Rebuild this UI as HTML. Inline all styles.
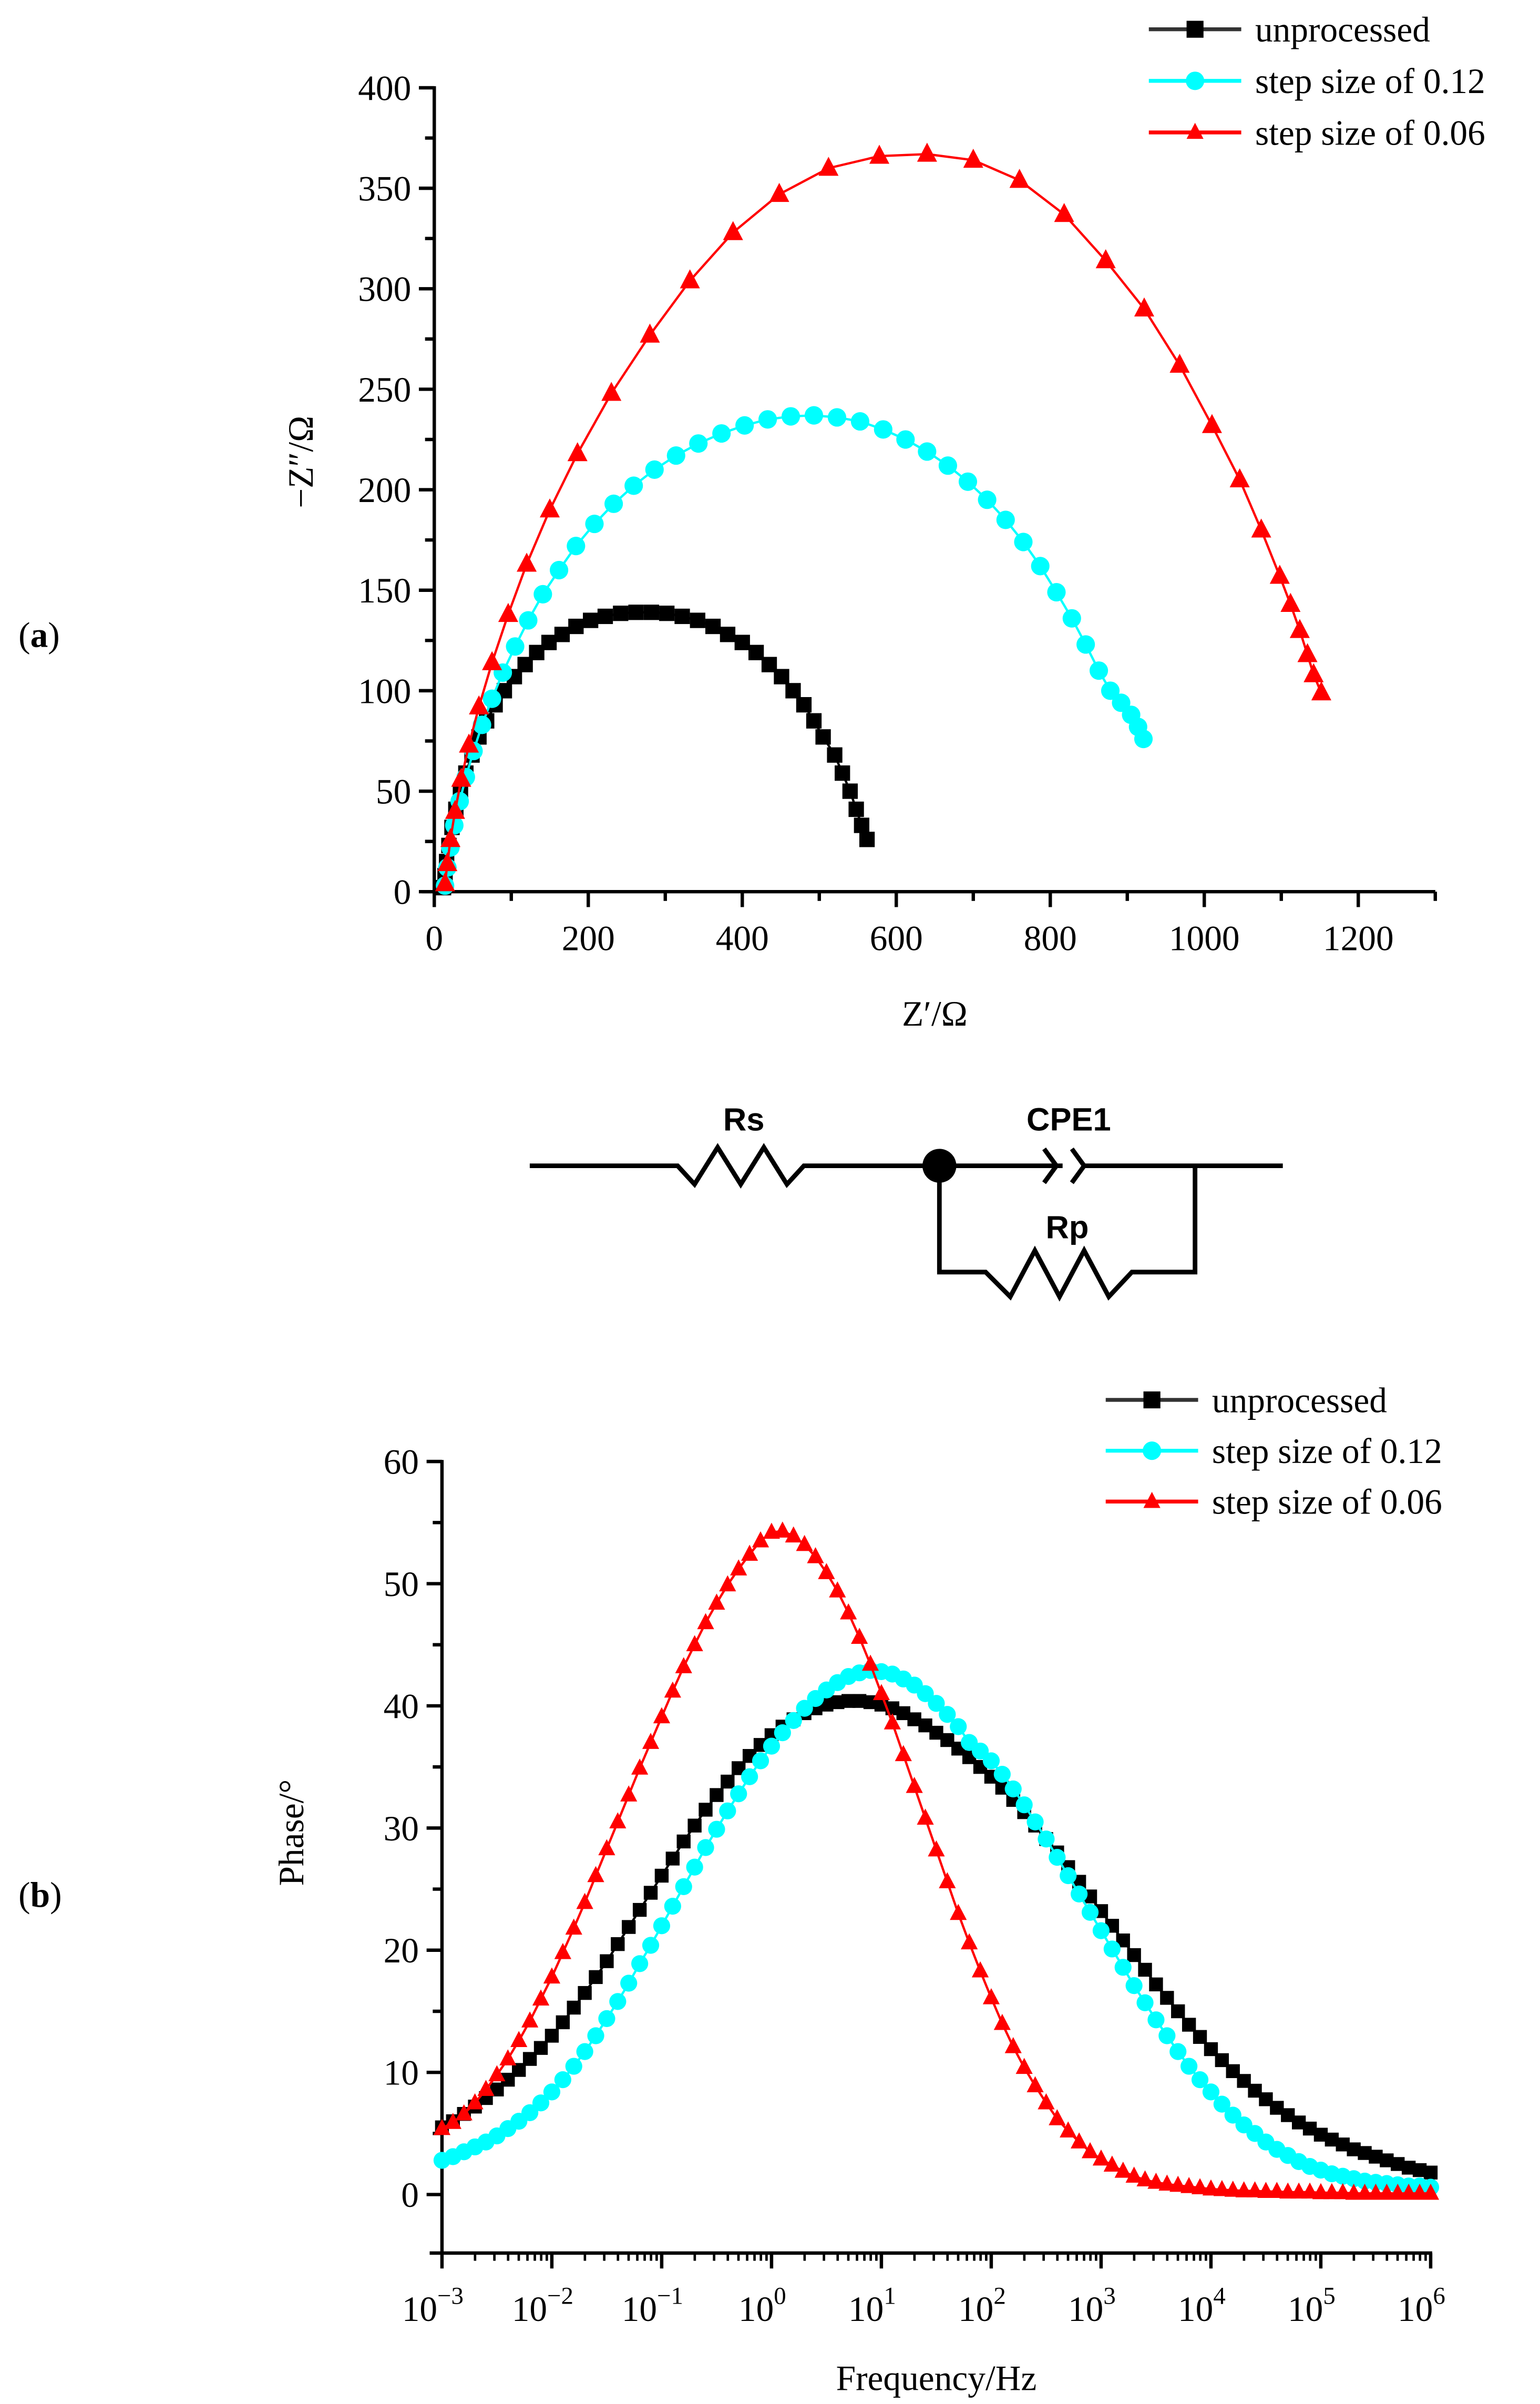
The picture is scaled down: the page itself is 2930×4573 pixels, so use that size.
<!DOCTYPE html>
<html><head><meta charset="utf-8"><style>
html,body{margin:0;padding:0;background:#fff;}
svg{display:block;}
text{font-family:"Liberation Serif",serif;fill:#000;}
.sans{font-family:"Liberation Sans",Arial,sans-serif;font-weight:bold;}
</style></head><body>
<svg id="fig" width="2930" height="4573" viewBox="0 0 1000 1561" preserveAspectRatio="none" xmlns="http://www.w3.org/2000/svg">
<rect width="1000" height="1561" fill="#fff"/>
<g id="nyq"></g>
<g id="circuit" stroke="#000" stroke-width="3" fill="none">
  <polyline points="344,757 440,757 451,769 466,745 481,769 496,745 511,769 522,757 610,757 690,757"/>
  <polyline points="678,746 686,757 678,768" stroke-width="3"/>
  <polyline points="696,746 704,757 696,768" />
  <polyline points="704,757 833,757"/>
  <polyline points="610,757 610,826 640,826 656,842 672,812 688,842 704,812 720,842 735,826 776,826 776,757"/>
  <circle cx="610" cy="757" r="11" fill="#000" stroke="none"/>
  <text x="483" y="734" text-anchor="middle" class="sans" font-size="21" stroke="none">Rs</text>
  <text x="694" y="734" text-anchor="middle" class="sans" font-size="21" stroke="none">CPE1</text>
  <text x="693" y="804" text-anchor="middle" class="sans" font-size="21" stroke="none">Rp</text>
</g>
<g id="bode"></g>
<text x="12" y="420" font-size="23">(<tspan font-weight="bold">a</tspan>)</text>
<text x="12" y="1238" font-size="23">(<tspan font-weight="bold">b</tspan>)</text>
</svg>
<script>
// ---- Nyquist data ----
const nyqXTicks = [0,200,400,600,800,1000,1200];
const nyqYTicks = [0,50,100,150,200,250,300,350,400];
const seriesNames = ["unprocessed","step size of 0.12","step size of 0.06"];
const blackZre = [12,14,16,19,23,28,34,41,49,58,68,79,91,104,118,133,149,166,184,203,222,242,262,282,302,322,342,362,381,400,418,435,451,466,480,493,505,520,530,540,548,555,562];
const blackZim = [2,8,15,23,32,41,50,59,68,77,85,93,100,107,113,119,124,128,132,135,137,138.5,139,139,138.5,137,135,132,128,124,119,113,107,100,93,85,77,68,59,50,41,33,26];
const cyanZre = [14,17,21,26,33,41,51,62,75,89,105,122,141,162,184,208,233,259,286,314,343,373,403,433,463,493,523,553,583,612,640,667,693,718,742,765,787,808,828,846,863,878,892,905,914,921];
const cyanZim = [3,12,22,33,45,57,70,83,96,109,122,135,148,160,172,183,193,202,210,217,223,228,232,235,236.5,237,236,234,230,225,219,212,204,195,185,174,162,149,136,123,110,100,94,88,82,76];
const redZre = [14,17,21,27,35,45,58,75,96,120,150,186,230,280,332,388,448,512,578,640,700,760,818,872,922,968,1010,1046,1074,1098,1112,1124,1134,1142,1152];
const redZim = [4,14,26,40,56,73,92,114,138,163,190,218,248,277,304,328,347,360,366,367,364,354,337,314,290,262,232,205,180,157,143,130,118,108,99];

// ---- Bode data (log10 f from -3 to 6, step 0.1) ----
const bodeXTickExp = [-3,-2,-1,0,1,2,3,4,5,6];
const bodeYTicks = [0,10,20,30,40,50,60];
const blackPhase = [5.5,6.0,6.6,7.2,7.9,8.6,9.4,10.2,11.1,12.0,13.0,14.1,15.3,16.5,17.8,19.1,20.5,21.9,23.3,24.7,26.1,27.5,28.9,30.2,31.5,32.7,33.8,34.9,35.9,36.8,37.6,38.3,38.9,39.4,39.8,40.1,40.3,40.4,40.4,40.3,40.1,39.8,39.4,38.9,38.4,37.8,37.2,36.5,35.8,35.0,34.2,33.3,32.3,31.3,30.2,29.1,28.0,26.8,25.6,24.4,23.2,22.0,20.8,19.6,18.4,17.2,16.1,15.0,13.9,12.9,11.9,11.0,10.1,9.3,8.5,7.8,7.1,6.5,5.9,5.4,4.9,4.5,4.1,3.7,3.4,3.1,2.8,2.5,2.2,2.0,1.8];
const cyanPhase = [2.8,3.1,3.5,3.9,4.3,4.8,5.4,6.0,6.7,7.5,8.4,9.4,10.5,11.7,13.0,14.4,15.8,17.3,18.9,20.4,22.0,23.6,25.2,26.8,28.4,29.9,31.4,32.8,34.2,35.5,36.7,37.8,38.8,39.8,40.6,41.3,41.9,42.4,42.7,42.9,42.8,42.6,42.2,41.7,41.0,40.2,39.3,38.3,37.0,36.3,35.5,34.4,33.2,31.9,30.5,29.1,27.6,26.1,24.6,23.1,21.6,20.1,18.6,17.1,15.7,14.3,13.0,11.7,10.5,9.4,8.4,7.4,6.5,5.7,5.0,4.3,3.7,3.2,2.7,2.3,2.0,1.7,1.5,1.3,1.1,1.0,0.9,0.8,0.7,0.7,0.6];
const redPhase = [5.4,5.9,6.6,7.5,8.6,9.8,11.1,12.6,14.2,16.0,17.8,19.8,21.8,23.9,26.1,28.3,30.5,32.7,34.9,37.0,39.1,41.2,43.2,45.0,46.8,48.4,49.9,51.2,52.4,53.5,54.2,54.3,53.9,53.2,52.2,50.9,49.4,47.6,45.6,43.4,41.0,38.6,36.0,33.4,30.8,28.2,25.6,23.0,20.6,18.3,16.1,14.0,12.1,10.4,8.9,7.5,6.2,5.2,4.3,3.5,2.9,2.4,1.9,1.5,1.2,1.0,0.85,0.75,0.65,0.55,0.45,0.4,0.35,0.3,0.3,0.25,0.25,0.2,0.2,0.2,0.15,0.15,0.15,0.1,0.1,0.1,0.1,0.1,0.1,0.1,0.1];

const NS="http://www.w3.org/2000/svg";
function mk(parent, tag, attrs){const e=document.createElementNS(NS,tag);for(const k in attrs)e.setAttribute(k,attrs[k]);parent.appendChild(e);return e;}
const colors=["#000000","#00FFFF","#FF0000"];
function marker(g,kind,x,y,s,color){
  let m;
  if(kind==0){m=mk(g,'rect',{x:x-s/2,y:y-s/2,width:s,height:s,fill:color});}
  else if(kind==1){m=mk(g,'circle',{cx:x,cy:y,r:s/2,fill:color});}
  else {const h=s*0.95;m=mk(g,'polygon',{points:`${x},${y-h*0.6} ${x-s/2},${y+h*0.4} ${x+s/2},${y+h*0.4}`,fill:color});}
  
  
}
function series(g,xs,ys,fx,fy,kind,color,s,name){
  const sg=mk(g,'g',{});
  
  
  const pts=xs.map((v,i)=>fx(v)+','+fy(ys[i])).join(' ');
  const pl=mk(sg,'polyline',{points:pts,fill:'none',stroke:color,'stroke-width':1.5});
  
  
  xs.forEach((v,i)=>marker(sg,kind,fx(v),fy(ys[i]),s,color));
}
function legend(g,x0,y0,dy){
  seriesNames.forEach((n,i)=>{
    const lg=mk(g,'g',{});
    
    
    const y=y0+i*dy;
    mk(lg,'line',{x1:x0,y1:y,x2:x0+60,y2:y,stroke:i==0?'#333':colors[i],'stroke-width':2.5});
    marker(lg,i,x0+30,y,i==1?12:11,colors[i]);
    const t=mk(lg,'text',{x:x0+69,y:y+8,'font-size':23});t.textContent=n;
  });
}

// ---- Nyquist ----
(function(){
  const g=document.getElementById('nyq');
  const X0=282,XS=0.5,Y0=579,YS=522/400;
  const fx=v=>X0+v*XS, fy=v=>Y0-v*YS;
  const ax=mk(g,'g',{stroke:'#000','stroke-width':2.2});
  
  
  mk(ax,'line',{x1:X0,y1:fy(400)-1,x2:X0,y2:Y0});
  mk(ax,'line',{x1:X0-8,y1:Y0,x2:932,y2:Y0});
  for(let v=0;v<=1300;v+=100){const x=fx(v);mk(ax,'line',{x1:x,y1:Y0,x2:x,y2:Y0+(v%200==0?10:6)});}
  for(let v=0;v<=400;v+=25){const y=fy(v);mk(ax,'line',{x1:X0,y1:y,x2:X0-(v%50==0?10:6),y2:y});}
  nyqXTicks.forEach(v=>{const t=mk(g,'text',{x:fx(v),y:Y0+38,'text-anchor':'middle','font-size':23});t.textContent=v;
    });
  nyqYTicks.forEach(v=>{const t=mk(g,'text',{x:X0-15,y:fy(v)+8,'text-anchor':'end','font-size':23});t.textContent=v;
    });
  const xt=mk(g,'text',{x:607,y:666,'text-anchor':'middle','font-size':23});xt.textContent="Z′/Ω";
  
  const yt=mk(g,'text',{x:0,y:0,'text-anchor':'middle','font-size':23,transform:'translate(203,300) rotate(-90)'});yt.textContent="−Z″/Ω";
  
  series(g,blackZre,blackZim,fx,fy,0,colors[0],10,'series-unprocessed');
  series(g,cyanZre,cyanZim,fx,fy,1,colors[1],12,'series-step-0.12');
  series(g,redZre,redZim,fx,fy,2,colors[2],13,'series-step-0.06');
  legend(g,746,19,33.5);
})();

// ---- Bode ----
(function(){
  const g=document.getElementById('bode');
  const X0=287,XD=(929-287)/9,Y0=1425,YS=(1425-949)/60,YB=1463;
  const fx=v=>X0+(v+3)*XD, fy=v=>Y0-v*YS;
  const ax=mk(g,'g',{stroke:'#000','stroke-width':2.2});
  
  
  mk(ax,'line',{x1:X0,y1:fy(60)-1,x2:X0,y2:YB});
  mk(ax,'line',{x1:X0-8,y1:YB,x2:930,y2:YB});
  for(let d=-3;d<=6;d++){
    mk(ax,'line',{x1:fx(d),y1:YB,x2:fx(d),y2:YB+10});
    if(d<6)for(let k=2;k<=9;k++){const x=fx(d+Math.log10(k));mk(ax,'line',{x1:x,y1:YB,x2:x,y2:YB+5,'stroke-width':1.6});}
  }
  for(let v=0;v<=60;v+=5){const y=fy(v);mk(ax,'line',{x1:X0,y1:y,x2:X0-(v%10==0?10:6),y2:y});}
  bodeXTickExp.forEach(e=>{const t=mk(g,'text',{x:fx(e)-6,y:YB+44,'text-anchor':'middle','font-size':23});
    
    t.appendChild(document.createTextNode('10'));
    const s=mk(t,'tspan',{dy:-11,'font-size':16});s.textContent=e<0?'−'+(-e):String(e);});
  bodeYTicks.forEach(v=>{const t=mk(g,'text',{x:X0-15,y:fy(v)+8,'text-anchor':'end','font-size':23});t.textContent=v;
    });
  const xt=mk(g,'text',{x:608,y:1552,'text-anchor':'middle','font-size':23});xt.textContent="Frequency/Hz";
  
  const yt=mk(g,'text',{x:0,y:0,'text-anchor':'middle','font-size':23,transform:'translate(197,1190) rotate(-90)'});yt.textContent="Phase/°";
  
  const lf=blackPhase.map((_,i)=>-3+i*0.1);
  series(g,lf,blackPhase,fx,fy,0,colors[0],9,'series-unprocessed');
  series(g,lf,cyanPhase,fx,fy,1,colors[1],11,'series-step-0.12');
  series(g,lf,redPhase,fx,fy,2,colors[2],11,'series-step-0.06');
  legend(g,718,909,33);
})();
</script>
</body></html>
